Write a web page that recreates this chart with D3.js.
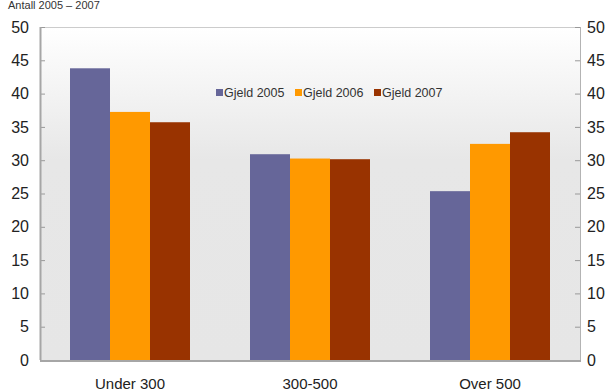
<!DOCTYPE html>
<html>
<head>
<meta charset="utf-8">
<script src="https://cdn.jsdelivr.net/npm/d3@7"></script>
<style>
  html, body { margin: 0; padding: 0; background: #fff; }
  svg { display: block; font-family: "Liberation Sans", Arial, sans-serif; }
</style>
</head>
<body>
<svg id="chart" width="613" height="392"></svg>
<script>
// Debt by income group, 2005–2007
const categories = ["Under 300", "300-500", "Over 500"];
const seriesNames = ["Gjeld 2005", "Gjeld 2006", "Gjeld 2007"];
const gjeld2005 = [43.8, 30.9, 25.35];
const gjeld2006 = [37.25, 30.25, 32.45];
const gjeld2007 = [35.7, 30.15, 34.2];
const yTicks = [0, 5, 10, 15, 20, 25, 30, 35, 40, 45, 50];
const colors = ["#666699", "#ff9900", "#993300"];

const series = [gjeld2005, gjeld2006, gjeld2007];

const svg = d3.select("#chart");
const m = { left: 40, right: 580, top: 27, bottom: 360 };

// background gradient of the plot area
const defs = svg.append("defs");
const grad = defs.append("linearGradient").attr("id", "bg")
  .attr("x1", 0).attr("y1", 0).attr("x2", 0).attr("y2", 1);
grad.append("stop").attr("offset", "0%").attr("stop-color", "#ffffff");
grad.append("stop").attr("offset", "40%").attr("stop-color", "#e7e7e7");
grad.append("stop").attr("offset", "100%").attr("stop-color", "#e6e6e6");

// heading
svg.append("text").attr("x", 8).attr("y", 9)
  .attr("font-size", 11).attr("fill", "#333")
  .text("Antall 2005 – 2007");

const x0 = d3.scaleBand().domain(categories).range([m.left, m.right]).paddingInner(1/3).paddingOuter(1/6);
const x1 = d3.scaleBand().domain(seriesNames).range([0, x0.bandwidth()]);
const y = d3.scaleLinear().domain([0, 50]).range([m.bottom, m.top]);

svg.append("rect")
  .attr("x", m.left).attr("y", m.top)
  .attr("width", m.right - m.left).attr("height", m.bottom - m.top)
  .attr("fill", "url(#bg)");

// frame lines (top and right light)
svg.append("line").attr("x1", m.left).attr("x2", m.right).attr("y1", m.top + 0.5).attr("y2", m.top + 0.5)
  .attr("stroke", "#cccccc");
svg.append("line").attr("x1", m.right + 0.5).attr("x2", m.right + 0.5).attr("y1", m.top).attr("y2", m.bottom)
  .attr("stroke", "#b3b3b3");

// bars
const groups = svg.append("g").selectAll("g")
  .data(categories).join("g")
  .attr("transform", d => `translate(${x0(d)},0)`);

groups.selectAll("rect")
  .data((c, i) => series.map((s, j) => ({ key: seriesNames[j], value: s[i], color: colors[j] })))
  .join("rect")
  .attr("x", d => x1(d.key))
  .attr("y", d => y(d.value))
  .attr("width", x1.bandwidth())
  .attr("height", d => y(0) - y(d.value))
  .attr("fill", d => d.color);

// left axis
const left = svg.append("g").attr("transform", `translate(${m.left},0)`)
  .call(d3.axisRight(y).tickValues(yTicks).tickSize(5).tickFormat(""));
left.select(".domain").remove();
left.selectAll(".tick line").attr("stroke", "#999");
svg.append("line").attr("x1", m.left + 0.5).attr("x2", m.left + 0.5).attr("y1", m.top).attr("y2", m.bottom)
  .attr("stroke", "#a6a6a6").attr("stroke-width", 2);

// right axis
const right = svg.append("g").attr("transform", `translate(${m.right},0)`)
  .call(d3.axisLeft(y).tickValues(yTicks).tickSize(5).tickFormat(""));
right.select(".domain").remove();
right.selectAll(".tick line").attr("stroke", "#999");

// tick labels
svg.append("g").selectAll("text").data(yTicks).join("text")
  .attr("x", 29).attr("y", d => y(d)).attr("dy", "0.35em")
  .attr("text-anchor", "end").attr("font-size", 16).attr("fill", "#222")
  .text(d => d);
svg.append("g").selectAll("text").data(yTicks).join("text")
  .attr("x", 587).attr("y", d => y(d)).attr("dy", "0.35em")
  .attr("text-anchor", "start").attr("font-size", 16).attr("fill", "#222")
  .text(d => d);

// bottom axis line
svg.append("line").attr("x1", m.left).attr("x2", m.right + 1).attr("y1", m.bottom + 1).attr("y2", m.bottom + 1)
  .attr("stroke", "#a6a6a6").attr("stroke-width", 2);

// category labels
svg.append("g").selectAll("text").data(categories).join("text")
  .attr("x", d => x0(d) + x0.bandwidth() / 2).attr("y", 389)
  .attr("text-anchor", "middle").attr("font-size", 15).attr("fill", "#222")
  .text(d => d);

// legend
const legendX = [216, 295, 374];
const legend = svg.append("g").selectAll("g").data(seriesNames).join("g")
  .attr("transform", (d, i) => `translate(${legendX[i]},93)`);
legend.append("rect").attr("x", 0).attr("y", -4).attr("width", 7).attr("height", 7)
  .attr("fill", (d, i) => colors[i]);
legend.append("text").attr("x", 8).attr("y", 0).attr("dy", "0.35em")
  .attr("font-size", 12.5).attr("fill", "#333").text(d => d);
</script>
</body>
</html>
